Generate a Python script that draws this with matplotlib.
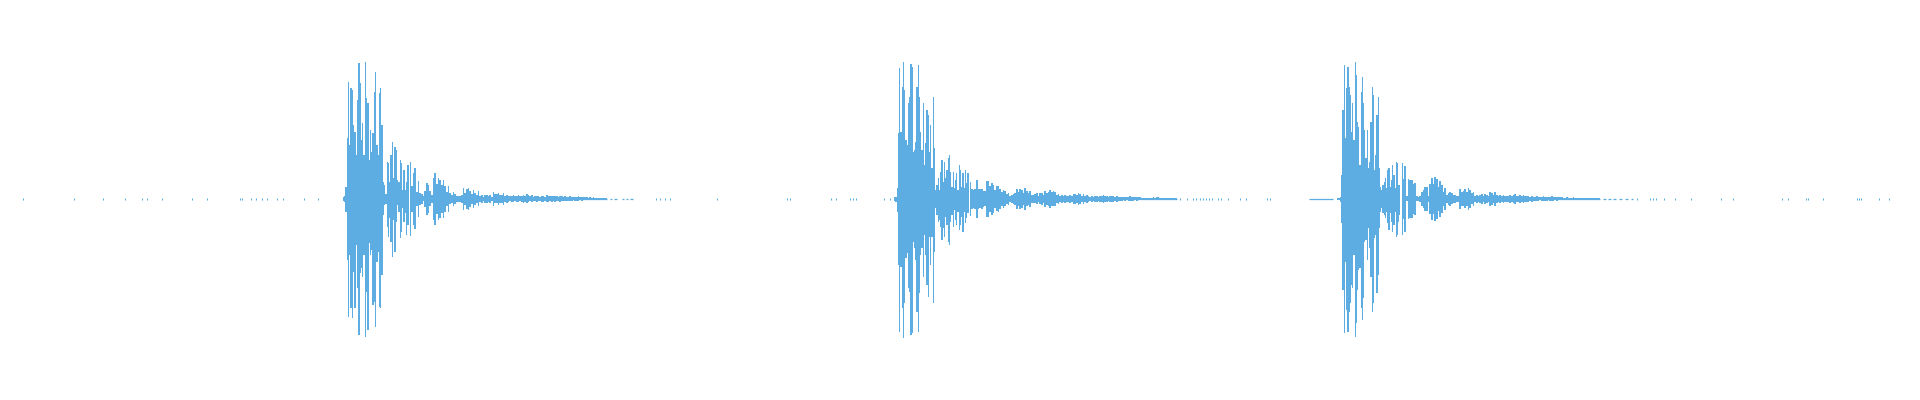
import numpy as np
import matplotlib
matplotlib.use("Agg")
import matplotlib.pyplot as plt

COLOR = "#5DADE2"

# ---------------- data (amplitude in display units, time in ms) ----------------
# Burst 1 – loud attack (positive / negative peaks)
b1_top = [2, 3, 12, 61, 117, 54, 111, 109, 74, 67, 44, 99, 136, 116, 59, 76, 44, 137, 101, 96,
          39, 69, 47, 66, 107, 127, 54, 44, 106, 111, 74, 17, 14, 5, 37, 36, 17, 44, 57, 21,
          52, 49, 19, 17, 39, 36, 9, 29, 9, 17, 34, 9]
b1_bot = [2, 3, 13, 61, 118, 56, 109, 119, 73, 109, 46, 89, 136, 74, 69, 78, 56, 138, 93, 131,
          44, 56, 51, 106, 103, 128, 63, 53, 108, 109, 76, 16, 6, 5, 28, 38, 19, 43, 58, 21,
          53, 23, 6, 13, 39, 33, 9, 23, 14, 36, 26, 14]
b1_span = (343.4, 409.2)
# Burst 1 – decay
b1_tail = [36.7, 13.3, 26.3, 30.5, 6.7, 17.8, 5.8, 5.3, 2.5, 8, 16.3, 14.2, 7.5, 4.2, 20.8, 26,
           15, 21.3, 19.2, 14.2, 19.3, 13.3, 7, 13.3, 5.5, 4.2, 6.7, 5, 3.2, 3.2, 2.8, 4.2, 11.2,
           5.8, 10, 11, 8.3, 4.8, 8.8, 5.8, 4.2, 7.5, 2.7, 3.7, 2.2, 4.2, 4.2, 2.7, 4.2, 2.2, 6.7,
           4.5, 4.5, 5.8, 4.2, 4.2, 5.8, 2.8, 4.2, 3, 2.5, 3, 3.5, 2.5, 3, 3.5, 2.5, 3, 4, 3, 4.5,
           3.5, 2.5, 3.5, 2, 2.5, 3, 2.5, 2, 3, 3, 2, 3.5, 3, 2.5, 3, 2.5, 3, 2.5, 2, 3, 2.5, 2,
           2.5, 2, 2, 2.5, 2, 1.5, 2, 2, 2.5, 1.5, 2, 1.5, 1.5, 1.5, 1, 1.5, 1, 1.5, 1, 1, 1, 1,
           1, 1, 1, 1]
b1_tail_start = 410.0

# Burst 2
b2_top = [1, 2, 2, 11, 66, 131, 67, 112, 137, 109, 59, 54, 96, 102, 135, 132, 47, 49, 57, 112,
          134, 102, 67, 49, 96, 34, 56, 89, 84, 47, 74, 31, 102, 51, 9, 14, 21, 9, 27, 39, 17,
          37, 21, 29, 41, 44, 27, 12, 27, 11, 19, 26, 9, 34, 29, 12, 26, 11, 29, 16, 26, 14]
b2_bot = [1, 2, 3, 13, 66, 133, 68, 109, 139, 104, 59, 54, 89, 93, 136, 134, 43, 49, 61, 113,
          133, 94, 56, 49, 78, 36, 56, 86, 98, 38, 66, 38, 104, 53, 9, 16, 23, 21, 28, 41, 29,
          38, 18, 26, 43, 46, 23, 16, 28, 11, 21, 26, 13, 31, 26, 18, 33, 13, 24, 19, 14, 14]
b2_span = (893.5, 969.3)
b2_tail = [17.3, 10.3, 9.2, 10, 18.8, 10, 9.5, 10.3, 8.3, 7.5, 18.3, 18, 13.3, 16.2, 14.2, 9.2,
           12.5, 13.3, 10.3, 6.7, 9.2, 7.5, 5, 5.8, 3.3, 4.2, 5.2, 5.8, 10.3, 6.7, 10, 9.2, 5.8,
           10.8, 7.5, 5.8, 8.3, 4.2, 3.7, 4.5, 5.5, 3, 5.5, 5.8, 4.2, 8.3, 6.3, 6.7, 9.2, 6.7,
           7.5, 6.7, 4.2, 5, 3.3, 4.2, 3.3, 4.2, 3.3, 2.7, 4.2, 3.3, 4.8, 5, 4.2, 5.8, 4.8, 3.3,
           5, 3.3, 4.2, 3.3, 2.2, 2.7, 2, 3.3, 2.7, 2.2, 3.3, 2.7, 4.2, 3.3, 2.7, 2.2, 3.3, 2.7,
           3.3, 2.2, 2.7, 1.7, 2, 2, 1.5, 2, 1.5, 2, 2.5, 2, 2, 1.5, 2, 1.5, 1.5, 1, 1, 1, 1, 1,
           1, 1, 1.5, 1, 1.5, 1.5, 1, 1, 1, 1, 1, 1, 1, 1, 1, 1, 1]
b2_tail_start = 970.0

# Burst 3
b3_top = [1, 1, 1, 2, 24, 89, 134, 61, 111, 132, 112, 104, 67, 96, 59, 137, 124, 77, 72, 34,
          107, 122, 96, 69, 41, 69, 31, 37, 77, 112, 104, 29, 44, 84, 102, 31, 12, 9, 14, 17,
          21, 11, 29, 31, 12, 19, 34, 24, 11, 37, 36, 14, 14]
b3_bot = [1, 1, 1, 3, 24, 91, 134, 63, 111, 133, 113, 104, 86, 89, 56, 138, 124, 91, 71, 69,
          109, 121, 99, 43, 41, 61, 29, 49, 78, 113, 104, 39, 36, 94, 76, 29, 13, 9, 14, 16,
          19, 13, 24, 31, 14, 23, 33, 26, 13, 38, 36, 23, 16]
b3_span = (1337.0, 1400.0)
b3_tail = [36.3, 20, 33.3, 2.5, 20, 19.2, 19, 15, 15.8, 2.5, 2.2, 3.3, 6.7, 9.2, 11.7, 12.2, 3.3,
           15, 20.7, 15, 21.7, 19.7, 11.7, 18.3, 14.2, 6.7, 10.8, 4.2, 5.8, 6.7, 5.5, 4.2, 4.2,
           2.7, 3.3, 10, 7, 7.5, 9.5, 6.7, 10.8, 8.8, 5.5, 6.7, 3.3, 4.2, 2.7, 4.2, 5.2, 3.3, 5,
           4.2, 2.7, 6.7, 5.8, 4.2, 6.7, 4.2, 3, 4.2, 3.3, 4.2, 2.7, 3.3, 2.7, 4.2, 3.3, 4.2, 5.2,
           3.3, 2.7, 4.2, 3.3, 4.2, 3.3, 2.7, 3.3, 2, 2.7, 2, 2, 2.5, 2, 1.5, 2, 2.5, 2, 2, 1.5,
           2, 2.5, 2, 1.5, 2, 1.5, 1.5, 1.5, 1, 1, 1.5, 1, 1, 1, 1.5, 1, 1, 1, 1, 1, 1, 1, 1, 1,
           1, 1, 1, 1, 1, 1, 1]
b3_tail_start = 1401.7

TAIL_STEP = 5.0 / 3.0

# Near-silent samples (isolated blips) and short low-level runs
quiet_dots = [23, 74, 103, 125, 142, 147, 162, 192, 207, 240, 242, 251, 256, 262, 267, 277, 283,
              304, 318, 656, 660, 665, 670, 717, 787, 790, 831, 836, 850, 853, 856, 884, 890,
              1180, 1187, 1193, 1196, 1200, 1203, 1206, 1209, 1212, 1218, 1221, 1228, 1240,
              1246, 1267, 1270, 1637, 1650, 1653, 1656, 1664, 1675, 1691, 1721, 1733, 1782,
              1788, 1806, 1808, 1823, 1857, 1859, 1861, 1879, 1889]
quiet_runs = [(610, 612), (614, 617), (622, 624), (626, 628), (630, 633),
              (1309, 1333), (1603, 1606), (1608, 1611), (1613, 1616), (1619, 1622),
              (1625, 1628), (1631, 1633)]
QUIET_AMP = 0.7

# ---------------- drawing ----------------
fig = plt.figure(figsize=(19.2, 4.0), dpi=100)
fig.patch.set_facecolor("white")
ax = fig.add_axes([0, 0, 1, 1])
ax.set_xlim(0, 1920)
ax.set_ylim(-201, 199)
ax.axis("off")


def draw_burst(top, bot, span, tail, tail_start):
    top = np.asarray(top, float)
    bot = np.asarray(bot, float)
    x = np.linspace(span[0], span[1], len(top))
    ax.fill_between(x, -bot, top, step="mid", color=COLOR, lw=0, antialiased=True)
    t = np.asarray(tail, float)
    xt = tail_start + TAIL_STEP * np.arange(len(t))
    ax.fill_between(xt, -t, t, step="mid", color=COLOR, lw=0, antialiased=True)
    # centre trace through the decay
    ax.hlines(0, xt[0], xt[-1], color=COLOR, lw=0.9)


draw_burst(b1_top, b1_bot, b1_span, b1_tail, b1_tail_start)
draw_burst(b2_top, b2_bot, b2_span, b2_tail, b2_tail_start)
draw_burst(b3_top, b3_bot, b3_span, b3_tail, b3_tail_start)

qd = np.asarray(quiet_dots, float)
ax.vlines(qd, -QUIET_AMP, QUIET_AMP, color=COLOR, lw=0.75)
for x0, x1 in quiet_runs:
    ax.hlines(0, x0, x1, color=COLOR, lw=0.9)

fig.savefig("out.png", dpi=100, facecolor="white")
